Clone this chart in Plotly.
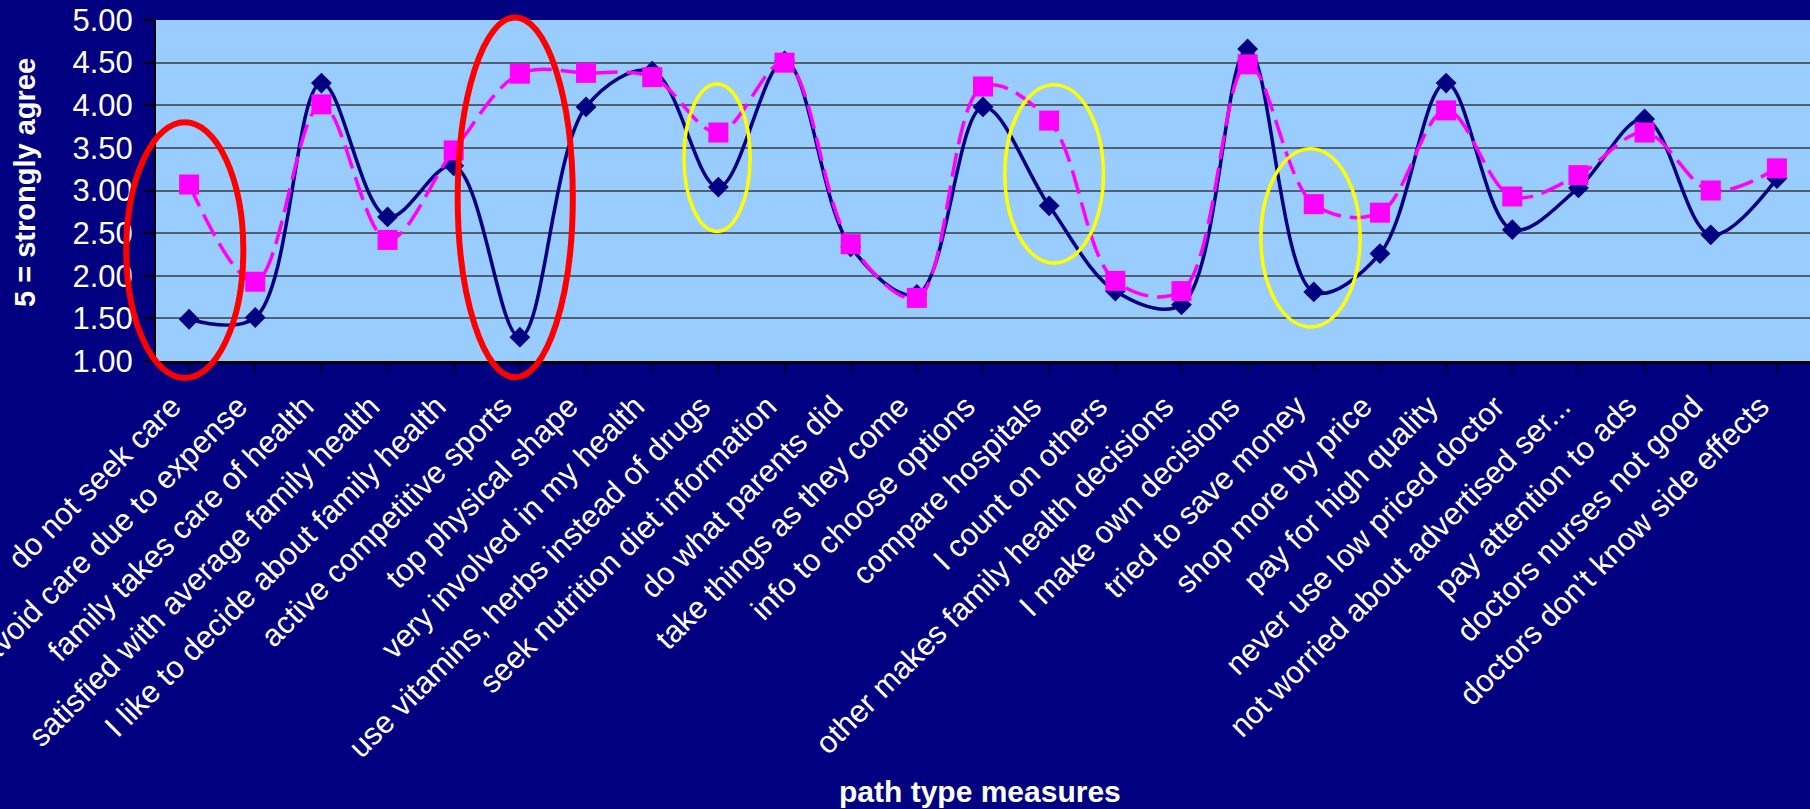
import plotly.graph_objects as go

# Survey measures (x categories)
categories = [
    "do not seek care",
    "avoid care due to expense",
    "family takes care of health",
    "satisfied with average family health",
    "I like to decide about family health",
    "active competitive sports",
    "top physical shape",
    "very involved in my health",
    "use vitamins, herbs instead of drugs",
    "seek nutrition diet information",
    "do what parents did",
    "take things as they come",
    "info to choose options",
    "compare hospitals",
    "I count on others",
    "other makes family health decisions",
    "I make own decisions",
    "tried to save money",
    "shop more by price",
    "pay for high quality",
    "never use low priced doctor",
    "not worried about advertised ser...",
    "pay attention to ads",
    "doctors nurses not good",
    "doctors don't know side effects",
]

# Mean agreement scores (5 = strongly agree)
group_a = [1.49, 1.51, 4.26, 2.69, 3.29, 1.28, 3.98, 4.40, 3.04, 4.52,
           2.34, 1.78, 3.98, 2.82, 1.82, 1.66, 4.66, 1.81, 2.26, 4.26,
           2.54, 3.03, 3.84, 2.48, 3.14]
group_b = [3.07, 1.93, 4.01, 2.42, 3.47, 4.37, 4.38, 4.33, 3.68, 4.50,
           2.37, 1.74, 4.22, 3.82, 1.94, 1.82, 4.48, 2.84, 2.74, 3.94,
           2.93, 3.18, 3.68, 3.00, 3.26]

y_ticks = [1.0, 1.5, 2.0, 2.5, 3.0, 3.5, 4.0, 4.5, 5.0]
y_min, y_max = 1.0, 5.0

# Highlight rings: (first index, last index, low score, high score, colour)
highlights = [
    (-0.95, 0.82, 0.80, 3.80, "#FF0000"),
    (4.06, 5.80, 0.81, 5.03, "#FF0000"),
    (7.48, 8.48, 2.52, 4.25, "#FFFF00"),
    (12.33, 13.82, 2.15, 4.24, "#FFFF00"),
    (16.20, 17.70, 1.40, 3.49, "#FFFF00"),
]

n = len(categories)
x_idx = list(range(n))

fig = go.Figure()
fig.add_trace(go.Scatter(
    x=x_idx, y=group_a, mode="lines+markers", name="group A",
    line=dict(color="#000080", width=3.5, shape="spline", smoothing=1.0),
    marker=dict(symbol="diamond", size=16, color="#000080", line=dict(width=0)),
))
fig.add_trace(go.Scatter(
    x=x_idx, y=group_b, mode="lines+markers", name="group B",
    line=dict(color="#FF00FF", width=3.5, shape="spline", smoothing=1.0,
              dash="24px,9px"),
    marker=dict(symbol="square", size=20, color="#FF00FF", line=dict(width=0)),
))


def to_paper_x(v):
    return (v + 0.5) / n


def to_paper_y(v):
    return (v - y_min) / (y_max - y_min)


for x0, x1, lo, hi, col in highlights:
    fig.add_shape(
        type="circle", xref="paper", yref="paper",
        x0=to_paper_x(x0), x1=to_paper_x(x1),
        y0=to_paper_y(lo), y1=to_paper_y(hi),
        line=dict(color=col, width=6 if col == "#FF0000" else 3.5),
        layer="above",
    )

font_family = "Liberation Sans, Arial, sans-serif"

fig.update_layout(
    width=1810, height=809,
    margin=dict(l=156, r=0, t=20, b=448, autoexpand=False),
    paper_bgcolor="#000080",
    plot_bgcolor="#99CCFF",
    showlegend=False,
    font=dict(family=font_family, color="white"),
    xaxis=dict(
        tickmode="array", tickvals=x_idx, ticktext=categories,
        range=[-0.5, n - 0.5], tickangle=-45, automargin=False,
        tickfont=dict(size=31, color="white", family=font_family),
        ticklabeloverflow="allow", ticklabelshift=-17, ticklabelstandoff=3,
        showgrid=False, zeroline=False,
        showline=True, linecolor="#000000", linewidth=3,
        ticks="outside", ticklen=9, tickcolor="#000033", tickwidth=2,
        tickson="boundaries",
    ),
    yaxis=dict(
        range=[y_min, y_max], tickvals=y_ticks, automargin=False,
        ticktext=[f"{v:.2f}" for v in y_ticks],
        tickfont=dict(size=31, color="white", family=font_family),
        showgrid=True, gridcolor="#50606f", gridwidth=1.5,
        zeroline=False,
        showline=True, linecolor="#000000", linewidth=2,
        ticks="outside", ticklen=10, tickcolor="#000000", tickwidth=2,
        ticklabelstandoff=5,
    ),
)

# Axis titles
fig.add_annotation(
    text="<b>path type measures</b>", xref="paper", yref="paper",
    x=(980 - 156) / 1654, y=(361 - 792) / 341,
    xanchor="center", yanchor="middle", showarrow=False,
    font=dict(size=30, color="white", family=font_family),
)
fig.add_annotation(
    text="<b>5 = strongly agree</b>", xref="paper", yref="paper",
    x=(25 - 156) / 1654, y=(361 - 183) / 341,
    xanchor="center", yanchor="middle", showarrow=False, textangle=-90,
    font=dict(size=29, color="white", family=font_family),
)

fig.write_html("out.html")
